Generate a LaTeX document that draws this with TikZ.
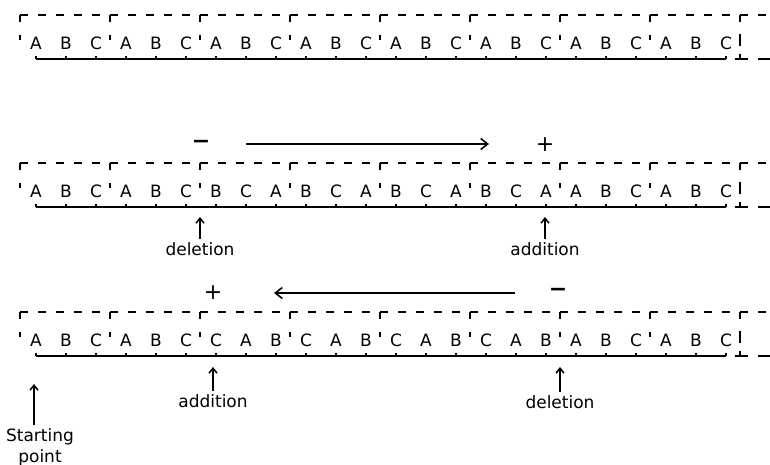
\documentclass[tikz,border=0pt]{standalone}
\usepackage{fontspec}
\setmainfont{DejaVu Sans}
\usetikzlibrary{arrows.meta}

\begin{document}
\begin{tikzpicture}[
      x=1pt, y=-1pt,
      base/.style={font=\fontsize{17}{17}\selectfont, inner sep=0pt, text depth=0pt},
      lbl/.style={font=\fontsize{17}{21}\selectfont, inner sep=0pt, align=center},
      sign/.style={font=\fontsize{22}{22}\selectfont, inner sep=0pt},
      frame/.style={line width=1.3pt, dash pattern=on 8pt off 10pt},
      corner/.style={line width=1.4pt},
      strand/.style={line width=2pt},
      tickline/.style={line width=1.3pt},
      shiftarrow/.style={line width=1.3pt, -{Straight Barb[length=7pt,width=11pt,line width=1.6pt]}},
      pointer/.style={line width=1.5pt, -{Straight Barb[length=5pt,width=8pt]}}
    ]
      \useasboundingbox (0,0) rectangle (770,465);
      % three reading frames
      \foreach \rw/\yy/\seq in {
          1/43/{A,B,C,A,B,C,A,B,C,A,B,C,A,B,C,A,B,C,A,B,C,A,B,C},
          2/191/{A,B,C,A,B,C,B,C,A,B,C,A,B,C,A,B,C,A,A,B,C,A,B,C},
          3/340/{A,B,C,A,B,C,C,A,B,C,A,B,C,A,B,C,A,B,A,B,C,A,B,C}} {
        \pgfmathsetmacro{\ytop}{\yy-28}
        \pgfmathsetmacro{\ybot}{\yy+16}
        \foreach \l [count=\k] in \seq {
          \node[base] (r\rw-\k) at ({36+30*(\k-1)},\yy) {\l};
          \coordinate (b\rw-\k) at ({36+30*(\k-1)},\ybot);
          \draw[tickline] (b\rw-\k) -- ++(0,-3);
        }
        \draw[strand] (b\rw-1) -- (b\rw-24);
        \foreach \j in {0,...,7} {
          \pgfmathsetmacro{\xx}{20+90*\j}
          \draw[frame] (\xx,\ytop) -- ++(90,0);
          \draw[corner] (\xx,\ytop+7) -- (\xx,\ytop);
          \draw[corner] (\xx,\yy-8) -- (\xx,\yy-3);
        }
        % open end on the right
        \draw[frame] (740,\ytop) -- (770,\ytop);
        \draw[corner] (740,\ytop+7) -- (740,\ytop);
        \draw[corner] (740,\yy-9) -- (740,\yy+3);
        \draw[strand] (735,\ybot) -- (748,\ybot);
        \draw[tickline] (740,\ybot) -- ++(0,-5);
        \draw[strand] (758,\ybot) -- (770,\ybot);
      }
      % second row: deletion then addition
      \node[sign] (minus2) at (201,144) {\textbf{−}};
      \node[sign] (plus2) at (545,145) {+};
      \coordinate (s2a) at (246,144);
      \coordinate (s2b) at (489,144);
      \draw[shiftarrow] (s2a) -- (s2b);
      \node[lbl] (del2) at (200,249) {deletion};
      \node[lbl] (add2) at (545,249) {addition};
      \coordinate (del2tip) at (200,217);
      \coordinate (add2tip) at (545,217);
      \draw[pointer] ([yshift=3pt]del2.north) -- (del2tip);
      \draw[pointer] ([yshift=3pt]add2.north) -- (add2tip);
      % third row: addition then deletion
      \node[sign] (plus3) at (213,293) {+};
      \node[sign] (minus3) at (558,292) {\textbf{−}};
      \coordinate (s3a) at (515,293);
      \coordinate (s3b) at (274,293);
      \draw[shiftarrow] (s3a) -- (s3b);
      \node[lbl] (add3) at (213,401) {addition};
      \node[lbl] (del3) at (560,402) {deletion};
      \coordinate (add3tip) at (213,367);
      \coordinate (del3tip) at (560,367);
      \draw[pointer] ([yshift=3pt]add3.north) -- (add3tip);
      \draw[pointer] ([yshift=3pt]del3.north) -- (del3tip);
      % start of reading
      \node[lbl, anchor=north] (start) at (40,428) {Starting\\point};
      \coordinate (starttip) at (34,384);
      \draw[pointer] ([yshift=3pt]start.north -| starttip) -- (starttip);
    \end{tikzpicture}
\end{document}
